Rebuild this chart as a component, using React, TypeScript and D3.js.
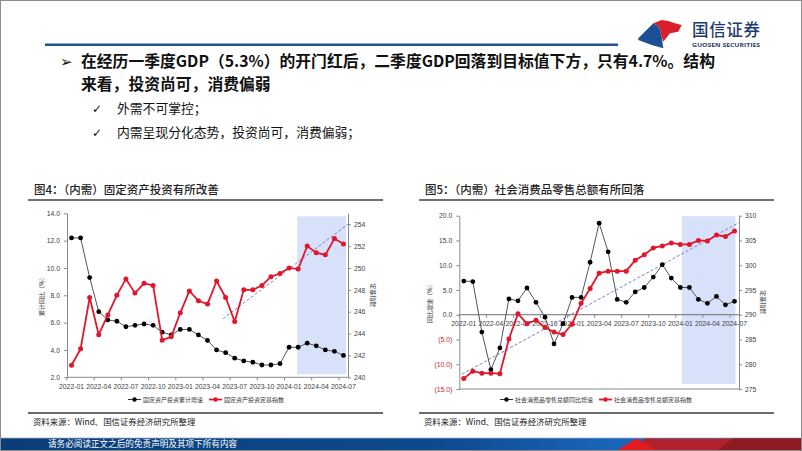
import { useEffect, useRef } from 'react';
import * as d3 from 'd3';

// ---- data ----
const months = [
  '2022-01', '2022-02', '2022-03', '2022-04', '2022-05', '2022-06', '2022-07', '2022-08', '2022-09', '2022-10', '2022-11', '2022-12',
  '2023-01', '2023-02', '2023-03', '2023-04', '2023-05', '2023-06', '2023-07', '2023-08', '2023-09', '2023-10', '2023-11', '2023-12',
  '2024-01', '2024-02', '2024-03', '2024-04', '2024-05', '2024-06', '2024-07',
];
const tickMonths = ['2022-01', '2022-04', '2022-07', '2022-10', '2023-01', '2023-04', '2023-07', '2023-10', '2024-01', '2024-04', '2024-07'];

// 图4
const investYoY = [12.2, 12.2, 9.3, 6.8, 6.2, 6.1, 5.7, 5.8, 5.9, 5.8, 5.3, 5.1, 5.5, 5.5, 5.1, 4.7, 4.0, 3.8, 3.4, 3.2, 3.1, 2.9, 2.9, 3.0, 4.2, 4.2, 4.5, 4.3, 4.0, 3.9, 3.6];
const investIndex = [241.1, 242.6, 247.3, 243.9, 245.7, 247.5, 249.0, 247.7, 248.6, 248.4, 243.4, 243.7, 245.9, 247.9, 247.0, 246.7, 248.8, 247.3, 245.1, 248.0, 248.0, 248.4, 249.2, 249.5, 250.0, 249.9, 252.0, 251.4, 251.2, 252.7, 252.2];
const investLeftTicks = [2, 4, 6, 8, 10, 12, 14];
const investRightTicks = [240, 242, 244, 246, 248, 250, 252, 254];
const investTrend = [{ i: 16.7, v: 245.35 }, { i: 30.5, v: 254.0 }];
const investHighlight = [24.9, 30.3];

// 图5
const retailYoY = [6.8, 6.7, -3.5, -11.1, -6.7, 3.2, 2.8, 5.4, 2.5, -0.5, -5.9, -1.8, 3.5, 3.5, 10.6, 18.5, 12.7, 3.1, 2.5, 4.6, 5.5, 7.6, 10.1, 7.4, 5.5, 5.5, 3.1, 2.3, 3.7, 2.0, 2.7];
const retailIndex = [277.1, 278.6, 278.2, 278.2, 278.1, 285.1, 290.2, 288.2, 288.9, 287.4, 286.5, 286.0, 288.1, 292.3, 295.3, 298.4, 298.8, 298.8, 298.8, 301.0, 302.1, 303.5, 303.9, 304.5, 304.2, 304.2, 305.0, 304.9, 306.1, 305.8, 306.9];
const retailLeftTicks = [-15, -10, -5, 0, 5, 10, 15, 20];
const retailRightTicks = [275, 280, 285, 290, 295, 300, 305, 310];
const retailTrend = [{ i: -0.2, v: 278.0 }, { i: 30.5, v: 308.6 }];
const retailHighlight = [24.15, 30.1];

const headline = ['在经历一季度GDP（5.3%）的开门红后，二季度GDP回落到目标值下方，只有4.7%。结构', '来看，投资尚可，消费偏弱'];
const points = ['外需不可掌控；', '内需呈现分化态势，投资尚可，消费偏弱；'];

const CJK = '"Noto Sans CJK SC", "DejaVu Sans", sans-serif';
const NUM = '"Liberation Sans", Arial, sans-serif';
const RED = '#e0172c';
const AXIS = '#8a8a8a';

type Panel = {
  x0: number; x1: number; yTop: number; yBot: number;
  leftDomain: [number, number]; leftTicks: number[];
  rightDomain: [number, number]; rightTicks: number[];
  black: number[]; red: number[];
  trend: { i: number; v: number }[];
  highlight: number[]; shadeInset: [number, number];
  zeroAxis: boolean;
  leftTitle: string; leftTitleX: number; rightTitleX: number;
  legend: string[]; legendCx: number; legendY: number;
};

function drawPanel(root: d3.Selection<SVGSVGElement, unknown, null, undefined>, p: Panel) {
  const g = root.append('g');
  const x = d3.scaleLinear().domain([-0.5, months.length - 0.5]).range([p.x0, p.x1]);
  const yL = d3.scaleLinear().domain(p.leftDomain).range([p.yBot, p.yTop]);
  const yR = d3.scaleLinear().domain(p.rightDomain).range([p.yBot, p.yTop]);

  g.append('rect')
    .attr('x', x(p.highlight[0]))
    .attr('width', x(p.highlight[1]) - x(p.highlight[0]))
    .attr('y', p.yTop + p.shadeInset[0])
    .attr('height', p.yBot - p.yTop - p.shadeInset[0] - p.shadeInset[1])
    .attr('fill', '#d8e1fa');

  const fmt = (d: number) => (d < 0 ? `(${Math.abs(d).toFixed(1)})` : d.toFixed(1));

  const la = g.append('g')
    .attr('transform', `translate(${p.x0},0)`)
    .call(d3.axisLeft(yL).tickValues(p.leftTicks).tickSize(3).tickSizeOuter(0).tickPadding(4).tickFormat((d) => fmt(+d)));
  la.selectAll('path,line').attr('stroke', AXIS);
  la.selectAll('text')
    .attr('font-family', NUM).attr('font-size', 6.8)
    .attr('fill', (d: any) => (d < 0 ? '#c0282d' : '#404040'));

  const ra = g.append('g')
    .attr('transform', `translate(${p.x1},0)`)
    .call(d3.axisRight(yR).tickValues(p.rightTicks).tickSize(3).tickSizeOuter(0).tickPadding(3).tickFormat(d3.format('d')));
  ra.selectAll('path,line').attr('stroke', AXIS);
  ra.selectAll('text').attr('font-family', NUM).attr('font-size', 6.8).attr('fill', '#404040');

  // bottom line
  g.append('line').attr('x1', p.x0).attr('x2', p.x1).attr('y1', p.yBot).attr('y2', p.yBot).attr('stroke', AXIS);

  const axisY = p.zeroAxis ? yL(0) : p.yBot;
  if (p.zeroAxis) {
    g.append('line').attr('x1', p.x0).attr('x2', p.x1).attr('y1', axisY).attr('y2', axisY).attr('stroke', '#6e6e6e');
  }
  tickMonths.forEach((m) => {
    const i = months.indexOf(m);
    g.append('line')
      .attr('x1', x(i - 0.5)).attr('x2', x(i - 0.5))
      .attr('y1', axisY).attr('y2', axisY + 3)
      .attr('stroke', AXIS);
    g.append('text')
      .attr('x', x(i)).attr('y', axisY + 11.5)
      .attr('text-anchor', 'middle')
      .attr('font-family', NUM).attr('font-size', 6.8).attr('fill', '#404040')
      .text(m);
  });

  // trend
  g.append('path')
    .attr('d', d3.line<{ i: number; v: number }>().x((d) => x(d.i)).y((d) => yR(d.v))(p.trend))
    .attr('stroke', '#7582cf').attr('stroke-width', 1).attr('stroke-dasharray', '3,2').attr('fill', 'none');

  // series
  const idx = d3.range(months.length);
  g.append('path')
    .attr('d', d3.line<number>().x((i) => x(i)).y((i) => yL(p.black[i]))(idx))
    .attr('stroke', '#555').attr('stroke-width', 1).attr('fill', 'none');
  g.selectAll('.bk').data(idx).join('circle')
    .attr('cx', (i) => x(i)).attr('cy', (i) => yL(p.black[i])).attr('r', 2.4).attr('fill', '#000');

  g.append('path')
    .attr('d', d3.line<number>().x((i) => x(i)).y((i) => yR(p.red[i]))(idx))
    .attr('stroke', RED).attr('stroke-width', 1.8).attr('fill', 'none');
  g.selectAll('.rd').data(idx).join('circle')
    .attr('cx', (i) => x(i)).attr('cy', (i) => yR(p.red[i])).attr('r', 2.5).attr('fill', RED);

  // axis titles
  const midY = (p.yTop + p.yBot) / 2;
  g.append('text')
    .attr('transform', `translate(${p.leftTitleX},${midY}) rotate(-90)`)
    .attr('text-anchor', 'middle').attr('dominant-baseline', 'middle')
    .attr('font-family', CJK).attr('font-size', 6).attr('fill', '#333')
    .text(p.leftTitle);
  g.append('text')
    .attr('transform', `translate(${p.rightTitleX},${midY}) rotate(90)`)
    .attr('text-anchor', 'middle').attr('dominant-baseline', 'middle')
    .attr('font-family', CJK).attr('font-size', 6).attr('fill', '#333')
    .text('定基指数');

  // legend
  const lg = g.append('g');
  let cx = 0;
  p.legend.forEach((name, k) => {
    const col = k === 0 ? '#000' : RED;
    const sw = k === 0 ? 1 : 1.8;
    if (k > 0) cx += 6;
    lg.append('line').attr('x1', cx).attr('x2', cx + 13).attr('y1', 0).attr('y2', 0).attr('stroke', k === 0 ? '#333' : RED).attr('stroke-width', sw);
    lg.append('circle').attr('cx', cx + 6.5).attr('cy', 0).attr('r', 2.2).attr('fill', col);
    cx += 15;
    const t = lg.append('text')
      .attr('x', cx).attr('y', 2)
      .attr('font-family', CJK).attr('font-size', 6).attr('fill', '#333')
      .text(name);
    cx += (t.node() as SVGTextElement).getComputedTextLength();
  });
  lg.attr('transform', `translate(${p.legendCx - cx / 2},${p.legendY})`);
}

export default function App() {
  const ref = useRef<SVGSVGElement | null>(null);

  useEffect(() => {
    const svg = ref.current;
    if (!svg) return;
    const root = d3.select(svg);
    root.selectAll('*').remove();

    const defs = root.append('defs');
    const grad = defs.append('linearGradient').attr('id', 'foot').attr('x1', '0').attr('x2', '1');
    grad.append('stop').attr('offset', '0').attr('stop-color', '#0b3d78');
    grad.append('stop').attr('offset', '0.55').attr('stop-color', '#0e4a8e');
    grad.append('stop').attr('offset', '0.77').attr('stop-color', '#1b66bb');

    root.append('rect').attr('width', 802).attr('height', 451).attr('fill', '#fff');

    // logo
    root.append('polygon')
      .attr('points', '638.3,38.3 653.3,23.3 659.3,26.7 661.7,36.7 663.3,48.3 651.7,45 638.3,40')
      .attr('fill', '#1d4f94');
    root.append('polygon')
      .attr('points', '653.3,23.3 661.7,20 668.3,21 675,23.3 681.7,25 678.3,31.7 670,33.3 663.3,41.7 661.7,36.7 659.3,26.7')
      .attr('fill', '#d9202c');
    root.append('text')
      .attr('x', 692).attr('y', 36).attr('textLength', 68)
      .attr('font-family', CJK).attr('font-size', 16.5).attr('font-weight', 500).attr('fill', '#1f3c6e')
      .text('国信证券');
    root.append('text')
      .attr('x', 692).attr('y', 47).attr('textLength', 68).attr('lengthAdjust', 'spacingAndGlyphs')
      .attr('font-family', '"Open Sans", sans-serif').attr('font-size', 6).attr('font-weight', 700).attr('fill', '#1f3c6e')
      .text('GUOSEN SECURITIES');

    root.append('line').attr('x1', 45).attr('x2', 618).attr('y1', 44.7).attr('y2', 44.7)
      .attr('stroke', '#24528f').attr('stroke-width', 2.5);

    // bullets
    root.append('text').attr('x', 60).attr('y', 67)
      .attr('font-family', '"DejaVu Sans", sans-serif').attr('font-size', 15).attr('font-weight', 700).attr('fill', '#111').text('➢');
    headline.forEach((line, k) => {
      root.append('text').attr('x', 81).attr('y', 66.5 + k * 23.2)
        .attr('font-family', CJK).attr('font-size', 15.8).attr('font-weight', 700).attr('fill', '#111')
        .text(line);
    });
    points.forEach((t, k) => {
      const y = 112.5 + k * 24.5;
      root.append('text').attr('x', 92).attr('y', y)
        .attr('font-family', '"DejaVu Sans", sans-serif').attr('font-size', 12).attr('fill', '#111').text('✓');
      root.append('text').attr('x', 117).attr('y', y)
        .attr('font-family', CJK).attr('font-size', 12.8).attr('fill', '#111').text(t);
    });

    // panel frames
    const frames = [
      { x0: 28, x1: 383, tx: 34, title: '图4：（内需）固定资产投资有所改善' },
      { x0: 419, x1: 774, tx: 425, title: '图5：（内需）社会消费品零售总额有所回落' },
    ];
    frames.forEach((f) => {
      root.append('text').attr('x', f.tx).attr('y', 194)
        .attr('font-family', CJK).attr('font-size', 11.5).attr('font-weight', 500).attr('fill', '#222').text(f.title);
      root.append('line').attr('x1', f.x0).attr('x2', f.x1).attr('y1', 200).attr('y2', 200)
        .attr('stroke', '#3f3f3f').attr('stroke-width', 1.7);
      root.append('line').attr('x1', f.x0).attr('x2', f.x1).attr('y1', 413).attr('y2', 413)
        .attr('stroke', '#6c6c6c').attr('stroke-width', 2);
      root.append('text').attr('x', f.x0 + 5).attr('y', 425)
        .attr('font-family', CJK).attr('font-size', 8.4).attr('fill', '#222').text('资料来源：Wind、国信证券经济研究所整理');
    });

    drawPanel(root, {
      x0: 67, x1: 348, yTop: 213.3, yBot: 377.3,
      leftDomain: [2, 14], leftTicks: investLeftTicks,
      rightDomain: [240, 255], rightTicks: investRightTicks,
      black: investYoY, red: investIndex,
      trend: investTrend, highlight: investHighlight, shadeInset: [3, 3],
      zeroAxis: false,
      leftTitle: '累计同比（%）', leftTitleX: 42, rightTitleX: 373,
      legend: ['固定资产投资累计增速', '固定资产投资定基指数'], legendCx: 206, legendY: 399.5,
    });
    drawPanel(root, {
      x0: 459.3, x1: 739, yTop: 215.7, yBot: 389,
      leftDomain: [-15, 20], leftTicks: retailLeftTicks,
      rightDomain: [275, 310], rightTicks: retailRightTicks,
      black: retailYoY, red: retailIndex,
      trend: retailTrend, highlight: retailHighlight, shadeInset: [0.5, 5],
      zeroAxis: true,
      leftTitle: '同比增速（%）', leftTitleX: 430, rightTitleX: 763,
      legend: ['社会消费品零售总额同比增速', '社会消费品零售总额定基指数'], legendCx: 596, legendY: 399.5,
    });

    // footer
    root.append('rect').attr('x', 0).attr('y', 438).attr('width', 802).attr('height', 13).attr('fill', 'url(#foot)');
    root.append('line').attr('x1', 0).attr('x2', 802).attr('y1', 438).attr('y2', 438).attr('stroke', '#9fb3cc').attr('stroke-width', 0.8);
    root.append('polygon').attr('points', '628,451 645,438.4 802,438.4 802,451').attr('fill', '#b1222d');
    root.append('polygon').attr('points', '616,451 636,438.4 658,451').attr('fill', '#e41b22');
    root.append('polygon').attr('points', '716,451 733,438.4 802,438.4 802,451').attr('fill', '#8e1b21');
    root.append('text').attr('x', 48).attr('y', 446.5)
      .attr('font-family', CJK).attr('font-size', 8.6).attr('fill', '#fff').text('请务必阅读正文之后的免责声明及其项下所有内容');

    root.append('rect').attr('x', 0.5).attr('y', 0.5).attr('width', 801).attr('height', 450)
      .attr('fill', 'none').attr('stroke', '#8c8c8c');
  }, []);

  return (
    <svg
      ref={ref}
      width={802}
      height={451}
      viewBox="0 0 802 451"
      style={{ position: 'absolute', left: 0, top: 0, display: 'block' }}
    />
  );
}
